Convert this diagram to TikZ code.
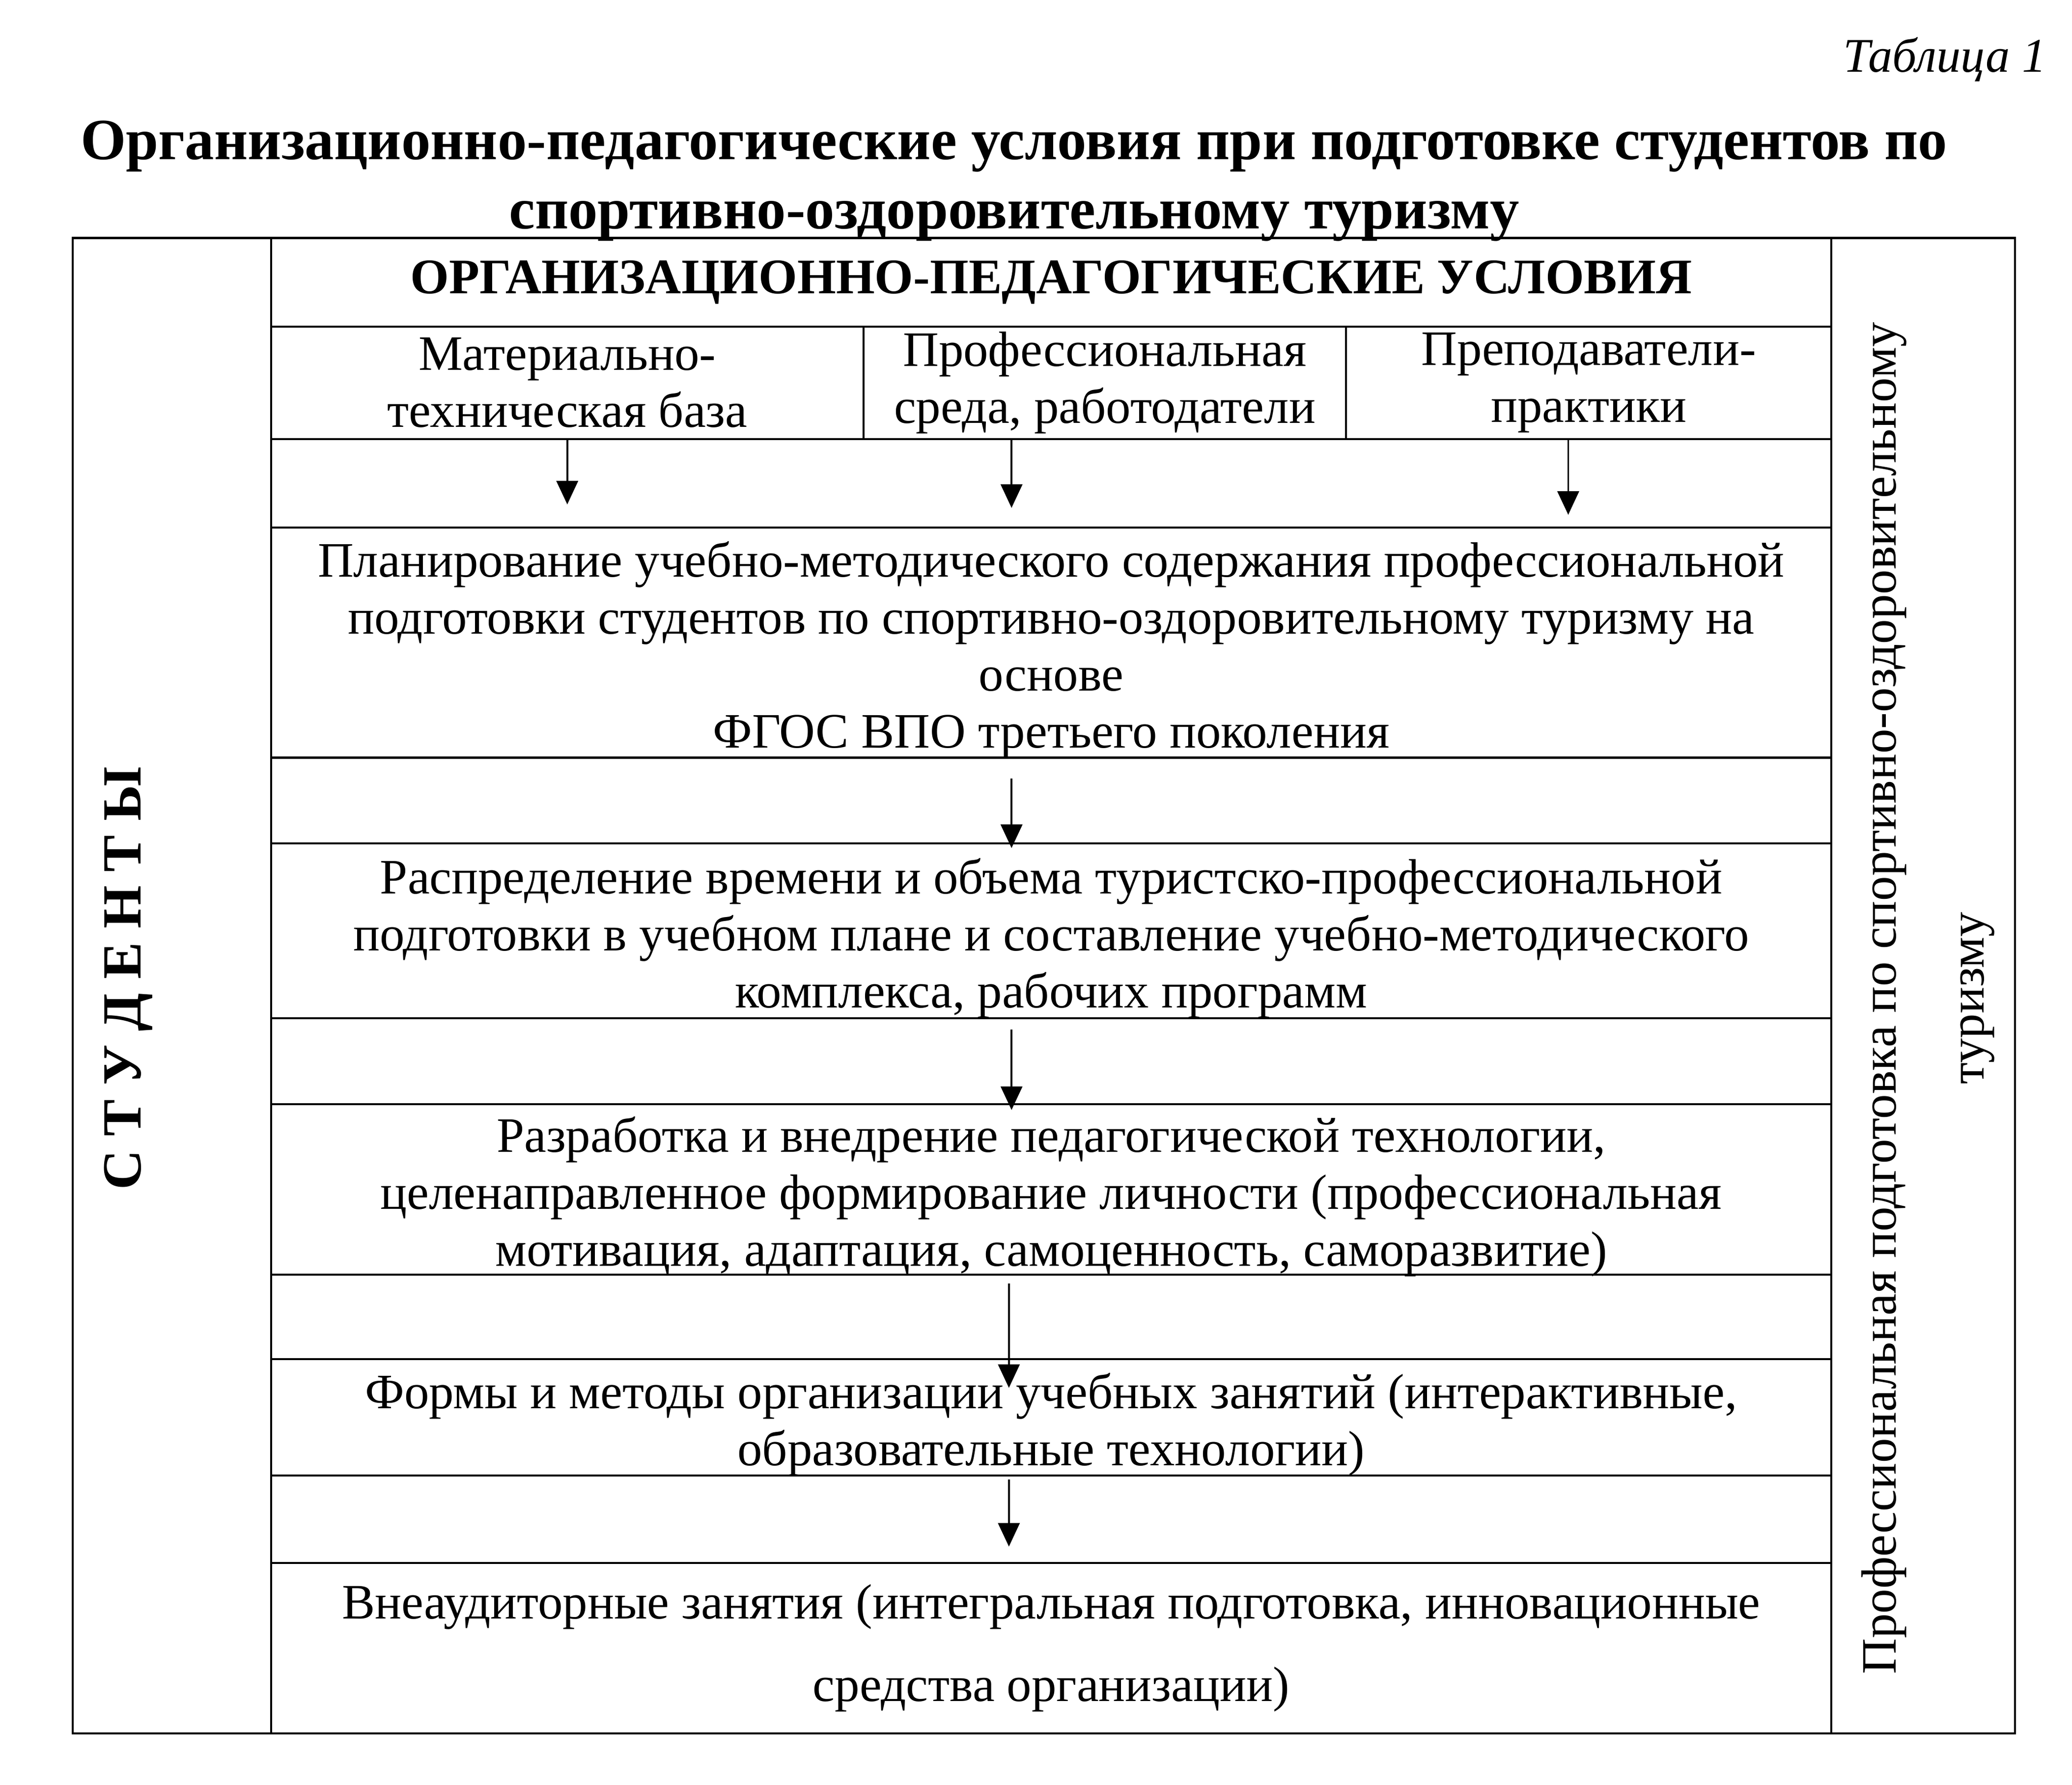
\documentclass[tikz,border=0pt]{standalone}
\usepackage{fontspec}
\setmainfont{Liberation Serif}
\usetikzlibrary{arrows.meta, positioning}

\def\un{0.02692cm}
\newcommand\pushdown{\rule{0pt}{29pt}}
\tikzset{
  box/.style={draw, line width=1.2pt, inner xsep=0pt, inner ysep=-8pt, align=center,
    font=\fontsize{28.7}{33}\selectfont},
  flow/.style={line width=1pt, -{Triangle[length=0.48cm, width=0.44cm]},
    shorten >=#1},
  flow/.default=0pt
}

\begin{document}
\begin{tikzpicture}[x=0.02692cm, y=-0.02692cm]
\useasboundingbox (0,0) rectangle (1567,1350);
% Title
\node[anchor=east, font=\fontsize{28}{33}\itshape] (tab) at (1552,45) {Таблица 1};
\node[align=center, font=\fontsize{33.8}{40}\bfseries] (title) at (767,137)
  {Организационно-педагогические условия при подготовке студентов по\\
   спортивно-оздоровительному туризму};
% Side columns
\node[box, minimum width={150*\un}, minimum height={1131*\un}] (left) at (130,745.5) {};
\node[font=\fontsize{32}{36}\bfseries, rotate=90] (stud) at (97,740) {С Т У Д Е Н Т Ы};
\node[box, minimum width={139*\un}, minimum height={1131*\un}] (right) at (1454.5,745.5) {};
\node[align=center, rotate=90, font=\fontsize{28.7}{51}\selectfont] (prof) at (1458,755)
  {Профессиональная подготовка по спортивно-оздоровительному\\ туризму};
% Header and sources
\node[box, minimum width={1180*\un}, minimum height={67*\un}, font=\fontsize{28.8}{33}\bfseries] (head) at (795,213.5)
  {ОРГАНИЗАЦИОННО-ПЕДАГОГИЧЕСКИЕ УСЛОВИЯ};
\node[box, minimum width={448*\un}, minimum height={85*\un}] (base) at (429,289.5)
  {Материально-\\техническая база};
\node[box, minimum width={365*\un}, minimum height={85*\un}] (env) at (835.5,289.5)
  {Профессиональная\\среда, работодатели};
\node[box, minimum width={367*\un}, minimum height={85*\un}] (tutor) at (1201.5,289.5)
  {Преподаватели-\\практики};
% Steps and gaps between them
\node[box, minimum width={1180*\un}, minimum height={67*\un}] (gap0) at (795,365.5) {};
\node[box, minimum width={1180*\un}, minimum height={174*\un}] (plan) at (795,486)
  {\pushdown Планирование учебно-методического содержания профессиональной\\
   подготовки студентов по спортивно-оздоровительному туризму на\\
   основе\\
   ФГОС ВПО третьего поколения};
\node[box, minimum width={1180*\un}, minimum height={65*\un}] (gap1) at (795,605.5) {};
\node[box, minimum width={1180*\un}, minimum height={132*\un}] (dist) at (795,704)
  {\pushdown Распределение времени и объема туристско-профессиональной\\
   подготовки в учебном плане и составление учебно-методического\\
   комплекса, рабочих программ};
\node[box, minimum width={1180*\un}, minimum height={65*\un}] (gap2) at (795,802.5) {};
\node[box, minimum width={1180*\un}, minimum height={129*\un}] (tech) at (795,899.5)
  {\pushdown Разработка и внедрение педагогической технологии,\\
   целенаправленное формирование личности (профессиональная\\
   мотивация, адаптация, самоценность, саморазвитие)};
\node[box, minimum width={1180*\un}, minimum height={64*\un}] (gap3) at (795,996) {};
\node[box, minimum width={1180*\un}, minimum height={88*\un}] (forms) at (795,1072)
  {\pushdown Формы и методы организации учебных занятий (интерактивные,\\
   образовательные технологии)};
\node[box, minimum width={1180*\un}, minimum height={66*\un}] (gap4) at (795,1149) {};
\node[box, minimum width={1180*\un}, minimum height={129*\un}] (extra) at (795,1246.5)
  {Внеаудиторные занятия (интегральная подготовка, инновационные\\[15pt]
   средства организации)};
% Arrows
\coordinate (top2) at (765,332);
\coordinate (top3) at (1186,332);
\coordinate (mid) at (765,0);
\coordinate (low) at (763,0);
\draw[flow=14pt] (base.south) -- (base.south |- gap0.south);
\draw[flow=12pt] (top2) -- (top2 |- gap0.south);
\draw[flow=8pt] (top3) -- (top3 |- gap0.south);
\draw[flow=-2pt] ([yshift=-0.45cm]gap1.north -| mid) -- (gap1.south -| mid);
\draw[flow=0pt] ([yshift=-0.25cm]gap2.north -| mid) -- ([yshift=-0.1cm]gap2.south -| mid);
\draw[flow=-16pt] ([yshift=-0.2cm]gap3.north -| low) -- (gap3.south -| low);
\draw[flow=10pt] ([yshift=-0.1cm]gap4.north -| low) -- (gap4.south -| low);
\end{tikzpicture}
\end{document}
